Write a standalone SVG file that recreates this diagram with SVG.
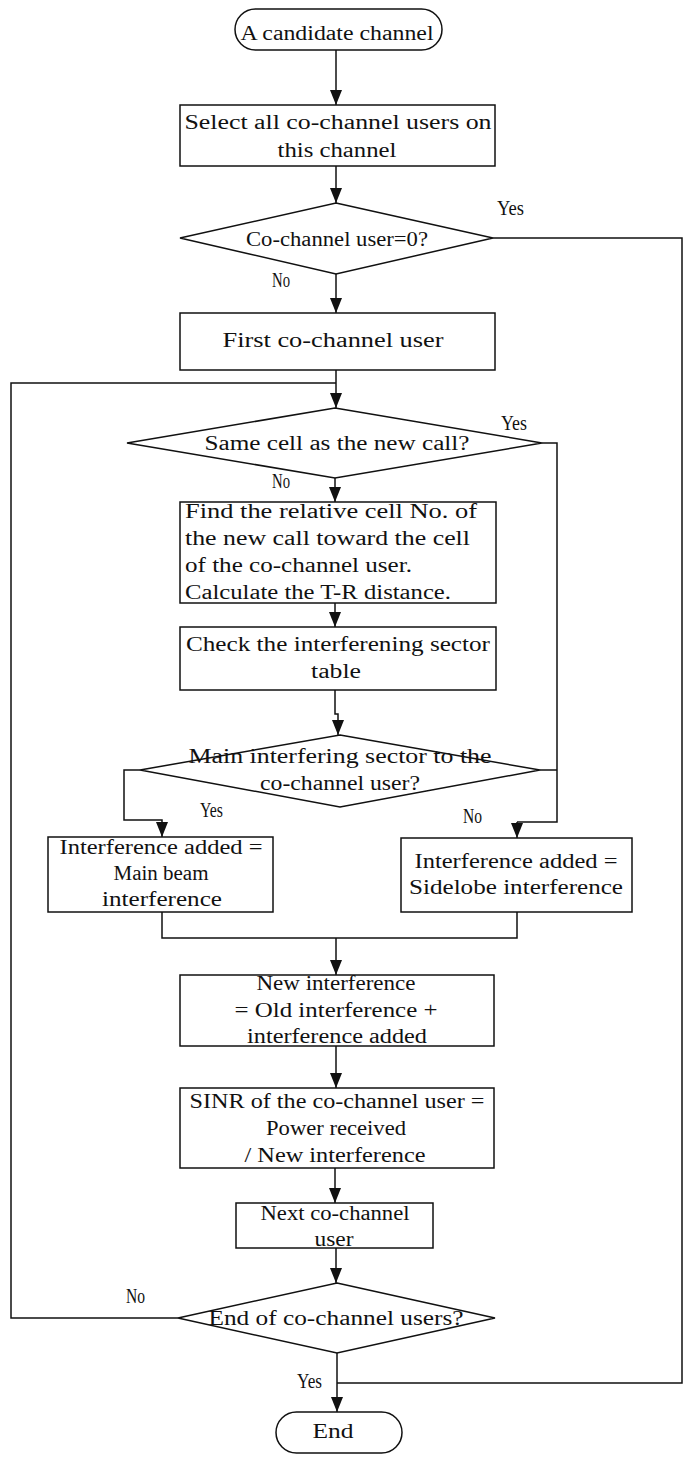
<svg xmlns="http://www.w3.org/2000/svg" width="683" height="1458" viewBox="0 0 683 1458">
  <style>
    .shape { fill: #ffffff; stroke: #111111; stroke-width: 1.5; }
    .wire { fill: none; stroke: #111111; stroke-width: 1.5; }
    .arr { marker-end: url(#head); }
    text { font-family: "Liberation Serif", "Times New Roman", serif; font-size: 20px; fill: #111111; }
    .c { text-anchor: middle; }
    .l { text-anchor: start; }
  </style>
  <defs>
    <marker id="head" viewBox="0 0 15 12" refX="15" refY="6" markerWidth="15" markerHeight="12" markerUnits="userSpaceOnUse" orient="auto">
      <path d="M0,0 L15,6 L0,12 Z" fill="#111111"/>
    </marker>
  </defs>
  <rect width="683" height="1458" fill="#ffffff"/>

  <!-- connectors -->
  <g id="connectors">
    <path class="wire arr" d="M336,50 V105"/>
    <path class="wire arr" d="M336,166 V203"/>
    <path class="wire arr" d="M336,274 V313"/>
    <!-- Yes: no co-channel users, straight to End -->
    <path class="wire" d="M493,238 H682 V1383 H337"/>
    <path class="wire arr" d="M336,370 V408"/>
    <!-- loop back for the next user -->
    <path class="wire" d="M178,1318 H11 V383 H336"/>
    <path class="wire arr" d="M335,478 V502"/>
    <path class="wire arr" d="M335,603 V627"/>
    <path class="wire arr" d="M335,690 V714 H338 V735"/>
    <!-- same cell: treated as sidelobe -->
    <path class="wire" d="M542,443 H557 V822 H517"/>
    <path class="wire arr" d="M517,822 V838"/>
    <path class="wire" d="M540,770 H557"/>
    <path class="wire arr" d="M140,770 H124 V820 H162 V837"/>
    <path class="wire" d="M162,912 V938 H517 V912"/>
    <path class="wire arr" d="M336,938 V975"/>
    <path class="wire arr" d="M336,1046 V1088"/>
    <path class="wire arr" d="M335,1168 V1203"/>
    <path class="wire arr" d="M336,1248 V1283"/>
    <path class="wire arr" d="M337,1353 V1412"/>
  </g>

  <g id="start">
    <rect class="shape" x="235" y="9" width="207" height="41" rx="20.5"/>
    <text class="c" x="337" y="40" textLength="193" lengthAdjust="spacingAndGlyphs">A candidate channel</text>
  </g>

  <g id="select-users">
    <rect class="shape" x="180" y="105" width="315" height="61"/>
    <text class="c" x="338" y="129" textLength="307" lengthAdjust="spacingAndGlyphs">Select all co-channel users on</text>
    <text class="c" x="337" y="157" textLength="119" lengthAdjust="spacingAndGlyphs">this channel</text>
  </g>

  <g id="zero-users">
    <polygon class="shape" points="336,203 493,238 336,274 180,238"/>
    <text class="c" x="337" y="246" textLength="182" lengthAdjust="spacingAndGlyphs">Co-channel user=0?</text>
    <text class="l" x="497" y="215" textLength="27" lengthAdjust="spacingAndGlyphs">Yes</text>
    <text class="l" x="272" y="287" textLength="18" lengthAdjust="spacingAndGlyphs">No</text>
  </g>

  <g id="first-user">
    <rect class="shape" x="180" y="313" width="315" height="57"/>
    <text class="c" x="333" y="347" textLength="221" lengthAdjust="spacingAndGlyphs">First co-channel user</text>
  </g>

  <g id="same-cell">
    <polygon class="shape" points="335,408 542,443 335,478 127,443"/>
    <text class="c" x="337" y="450" textLength="265" lengthAdjust="spacingAndGlyphs">Same cell as the new call?</text>
    <text class="l" x="501" y="430" textLength="26" lengthAdjust="spacingAndGlyphs">Yes</text>
    <text class="l" x="272" y="488" textLength="18" lengthAdjust="spacingAndGlyphs">No</text>
  </g>

  <g id="relative-cell">
    <rect class="shape" x="180" y="502" width="316" height="101"/>
    <text class="l" x="185" y="518" textLength="292" lengthAdjust="spacingAndGlyphs">Find the relative cell No. of</text>
    <text class="l" x="185" y="545" textLength="285" lengthAdjust="spacingAndGlyphs">the new call toward the cell</text>
    <text class="l" x="185" y="572" textLength="227" lengthAdjust="spacingAndGlyphs">of the co-channel user.</text>
    <text class="l" x="185" y="599" textLength="266" lengthAdjust="spacingAndGlyphs">Calculate the T-R distance.</text>
  </g>

  <g id="sector-table">
    <rect class="shape" x="180" y="627" width="316" height="63"/>
    <text class="c" x="338" y="651" textLength="304" lengthAdjust="spacingAndGlyphs">Check the interferening sector</text>
    <text class="c" x="336" y="678" textLength="50" lengthAdjust="spacingAndGlyphs">table</text>
  </g>

  <g id="main-sector">
    <polygon class="shape" points="340,735 540,770 340,807 140,770"/>
    <text class="c" x="340" y="763" textLength="303" lengthAdjust="spacingAndGlyphs">Main interfering sector to the</text>
    <text class="c" x="340" y="790" textLength="160" lengthAdjust="spacingAndGlyphs">co-channel user?</text>
    <text class="l" x="200" y="817" textLength="23" lengthAdjust="spacingAndGlyphs">Yes</text>
    <text class="l" x="463" y="823" textLength="19" lengthAdjust="spacingAndGlyphs">No</text>
  </g>

  <g id="main-beam">
    <rect class="shape" x="48" y="837" width="225" height="75"/>
    <text class="c" x="161" y="854" textLength="203" lengthAdjust="spacingAndGlyphs">Interference added =</text>
    <text class="c" x="161" y="880" textLength="95" lengthAdjust="spacingAndGlyphs">Main beam</text>
    <text class="c" x="162" y="906" textLength="120" lengthAdjust="spacingAndGlyphs">interference</text>
  </g>

  <g id="sidelobe">
    <rect class="shape" x="401" y="838" width="231" height="74"/>
    <text class="c" x="516" y="868" textLength="203" lengthAdjust="spacingAndGlyphs">Interference added =</text>
    <text class="c" x="516" y="894" textLength="214" lengthAdjust="spacingAndGlyphs">Sidelobe interference</text>
  </g>

  <g id="new-interference">
    <rect class="shape" x="180" y="975" width="314" height="71"/>
    <text class="c" x="336" y="990" textLength="159" lengthAdjust="spacingAndGlyphs">New interference</text>
    <text class="c" x="336" y="1017" textLength="203" lengthAdjust="spacingAndGlyphs">= Old interference +</text>
    <text class="c" x="337" y="1043" textLength="180" lengthAdjust="spacingAndGlyphs">interference added</text>
  </g>

  <g id="sinr">
    <rect class="shape" x="180" y="1088" width="314" height="80"/>
    <text class="c" x="337" y="1108" textLength="295" lengthAdjust="spacingAndGlyphs">SINR of the co-channel user =</text>
    <text class="c" x="336" y="1135" textLength="140" lengthAdjust="spacingAndGlyphs">Power received</text>
    <text class="c" x="335" y="1162" textLength="181" lengthAdjust="spacingAndGlyphs">/ New interference</text>
  </g>

  <g id="next-user">
    <rect class="shape" x="236" y="1203" width="197" height="45"/>
    <text class="c" x="335" y="1220" textLength="149" lengthAdjust="spacingAndGlyphs">Next co-channel</text>
    <text class="c" x="334" y="1246" textLength="39" lengthAdjust="spacingAndGlyphs">user</text>
  </g>

  <g id="last-user">
    <polygon class="shape" points="337,1283 495,1318 337,1353 178,1318"/>
    <text class="c" x="336" y="1325" textLength="255" lengthAdjust="spacingAndGlyphs">End of co-channel users?</text>
    <text class="l" x="126" y="1303" textLength="19" lengthAdjust="spacingAndGlyphs">No</text>
    <text class="l" x="297" y="1388" textLength="25" lengthAdjust="spacingAndGlyphs">Yes</text>
  </g>

  <g id="end">
    <rect class="shape" x="276" y="1412" width="126" height="41" rx="20.5"/>
    <text class="c" x="333" y="1438" textLength="41" lengthAdjust="spacingAndGlyphs">End</text>
  </g>
</svg>
